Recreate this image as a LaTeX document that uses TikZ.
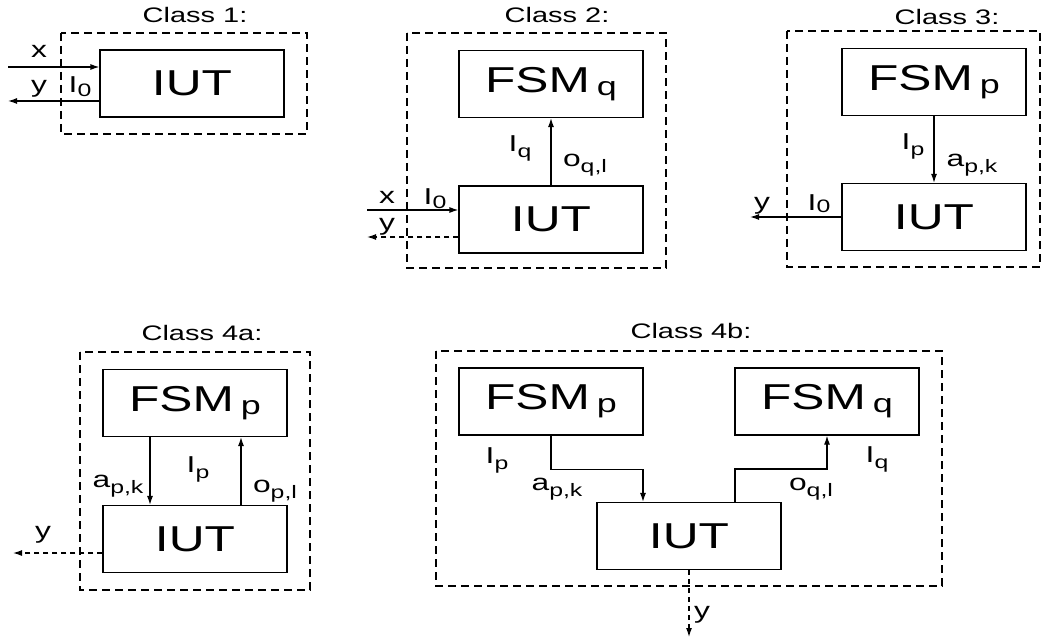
\documentclass[tikz,border=0pt]{standalone}
\usepackage{fontspec}
\setmainfont[FakeStretch=1.38]{Liberation Sans}
\usetikzlibrary{arrows.meta,positioning,calc}

\newcommand{\fsmsub}[1]{\hspace{7pt}\raisebox{-3pt}{\fontsize{26}{26}\selectfont #1}}
\newcommand{\lblsub}[2][6pt]{\raisebox{-#1}{\fontsize{18}{18}\selectfont #2}}

\begin{document}
\begin{tikzpicture}[x=1pt, y=-1pt,
    blk/.style={draw, line width=1.2pt, minimum width=184pt, minimum height=67pt, inner sep=0pt, font=\fontsize{36}{36}\selectfont},
    grp/.style={draw, line width=1.2pt, dash pattern=on 8pt off 5pt},
    lbl/.style={anchor=base, inner sep=0pt, font=\fontsize{23}{23}\selectfont},
    ttl/.style={anchor=base, inner sep=0pt, font=\fontsize{21}{21}\selectfont},
    sig/.style={line width=1.2pt, -{Latex[length=9pt,width=6pt]}},
    dsig/.style={sig, dash pattern=on 5pt off 4pt}]
        \useasboundingbox (0,0) rectangle (1044,639);
        % Class 1
        \node[ttl] (t1) at (195,23) {Class 1:};
        \draw[grp] (61,33) rectangle (307,134);
        \node[blk] (iut1) at (192,83.5) {IUT};
        \coordinate (in1) at (8,67);
        \coordinate (out1) at (8,101);
        \draw[sig] (in1) -- (in1 -| iut1.west);
        \draw[sig] (out1 -| iut1.west) -- (out1);
        \node[lbl] (x1) at (39,58) {x};
        \node[lbl] (y1) at (39,93) {y};
        \node[lbl] (i1) at (80,93) {I\lblsub[4pt]{0}};
        % Class 2
        \node[ttl] (t2) at (557,23) {Class 2:};
        \draw[grp] (407,33) rectangle (666,268);
        \node[blk] (fsmq2) at (551,84) {FSM\fsmsub{q}};
        \node[blk] (iut2) at (551,219.5) {IUT};
        \draw[sig] (iut2.north) -- (fsmq2.south);
        \coordinate (in2) at (367,210);
        \coordinate (out2) at (367,237);
        \draw[sig] (in2) -- (in2 -| iut2.west);
        \draw[dsig] (out2 -| iut2.west) -- (out2);
        \node[lbl] (iq2) at (520,152) {I\lblsub{q}};
        \node[lbl] (oq2) at (585,167) {o\lblsub{q,l}};
        \node[lbl] (x2) at (387,204) {x};
        \node[lbl] (y2) at (387,230) {y};
        \node[lbl] (i2) at (435,205) {I\lblsub[3pt]{0}};
        % Class 3
        \node[ttl] (t3) at (947,25) {Class 3:};
        \draw[grp] (787,31) rectangle (1040,267);
        \node[blk] (fsmp3) at (934,82) {FSM\fsmsub{p}};
        \node[blk] (iut3) at (934,217) {IUT};
        \draw[sig] (fsmp3.south) -- (iut3.north);
        \coordinate (out3) at (750,217);
        \draw[sig] (iut3.west) -- (out3);
        \node[lbl] (ip3) at (913,150) {I\lblsub{p}};
        \node[lbl] (ap3) at (972,167) {a\lblsub{p,k}};
        \node[lbl] (y3) at (762,210) {y};
        \node[lbl] (i3) at (819,211) {I\lblsub[2pt]{0}};
        % Class 4a
        \node[ttl] (t4a) at (202,340) {Class 4a:};
        \draw[grp] (80,352) rectangle (310,590);
        \node[blk] (fsmp4a) at (195,403) {FSM\fsmsub{p}};
        \node[blk] (iut4a) at (195,539) {IUT};
        \draw[sig] ([xshift=-45pt]fsmp4a.south) -- ([xshift=-45pt]iut4a.north);
        \draw[sig] ([xshift=46pt]iut4a.north) -- ([xshift=46pt]fsmp4a.south);
        \coordinate (out4a) at (13,553);
        \draw[dsig] (out4a -| iut4a.west) -- (out4a);
        \node[lbl] (ap4a) at (118,487) {a\lblsub{p,k}};
        \node[lbl] (ip4a) at (198,472) {I\lblsub{p}};
        \node[lbl] (op4a) at (275,492) {o\lblsub{p,l}};
        \node[lbl] (y4a) at (43,538) {y};
        % Class 4b
        \node[ttl] (t4b) at (691,338) {Class 4b:};
        \draw[grp] (436,351) rectangle (942,586);
        \node[blk] (fsmp4b) at (551,401.5) {FSM\fsmsub{p}};
        \node[blk] (fsmq4b) at (827,401.5) {FSM\fsmsub{q}};
        \node[blk] (iut4b) at (689,536) {IUT};
        \draw[sig] (fsmp4b.south) -- ++(0,34) -| ([xshift=-46pt]iut4b.north);
        \draw[sig] ([xshift=46pt]iut4b.north) -- ++(0,-33) -| (fsmq4b.south);
        \coordinate (out4b) at (689,637);
        \draw[dsig] (iut4b.south) -- (out4b);
        \node[lbl] (ip4b) at (497,463) {I\lblsub{p}};
        \node[lbl] (ap4b) at (557,490) {a\lblsub{p,k}};
        \node[lbl] (iq4b) at (877,462) {I\lblsub{q}};
        \node[lbl] (oq4b) at (811,490) {o\lblsub{q,l}};
        \node[lbl] (y4b) at (702,618) {y};
\end{tikzpicture}
\end{document}
